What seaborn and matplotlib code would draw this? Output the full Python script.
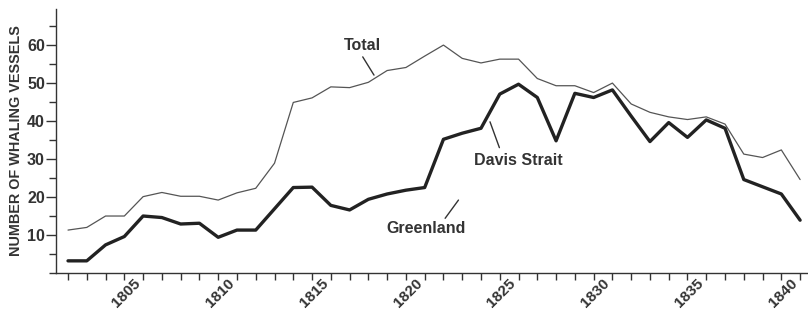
import matplotlib
matplotlib.use("Agg")
import matplotlib.pyplot as plt
import seaborn as sns
import pandas as pd
from matplotlib.ticker import MultipleLocator, FixedLocator

years = list(range(1801, 1841))
total = [11.3, 12.0, 15.0, 15.0, 20.1, 21.2, 20.2, 20.2, 19.2, 21.1,
         22.3, 28.9, 44.9, 46.1, 49.0, 48.8, 50.2, 53.3, 54.1, 57.1,
         60.0, 56.5, 55.3, 56.3, 56.3, 51.2, 49.3, 49.3, 47.5, 50.0,
         44.5, 42.3, 41.1, 40.4, 41.1, 39.2, 31.3, 30.4, 32.4, 24.6]
greenland = [3.2, 3.2, 7.4, 9.6, 15.0, 14.6, 12.9, 13.1, 9.4, 11.3,
             11.3, 16.9, 22.5, 22.6, 17.8, 16.6, 19.4, 20.8, 21.8, 22.5,
             35.2, 36.8, 38.1, 47.1, 49.7, 46.2, 34.8, 47.3, 46.2, 48.2,
             41.3, 34.6, 39.6, 35.7, 40.3, 38.1, 24.6, 22.7, 20.8, 13.9]
xtick_years = [1805, 1810, 1815, 1820, 1825, 1830, 1835, 1840]
ytick_values = [10, 20, 30, 40, 50, 60]

sns.set_style("ticks")
plt.rcParams["font.family"] = ["Liberation Sans", "DejaVu Sans"]

df = pd.DataFrame({"year": years, "Total": total, "Greenland": greenland})

fig = plt.figure(figsize=(8.08, 3.16), dpi=100)
ax = fig.add_axes([56 / 808, 43 / 316, 752 / 808, 264 / 316])

sns.lineplot(data=df, x="year", y="Total", ax=ax, color="#555555", linewidth=0.9)
sns.lineplot(data=df, x="year", y="Greenland", ax=ax, color="#222222", linewidth=2.4)

ax.set_xlim(1800.36, 1840.42)
ax.set_ylim(0, 69.5)
sns.despine(ax=ax)
for s in ["left", "bottom"]:
    ax.spines[s].set_color("#333333")
    ax.spines[s].set_linewidth(1.0)

ax.xaxis.set_major_locator(FixedLocator(xtick_years))
ax.xaxis.set_minor_locator(MultipleLocator(1))
ax.set_xticks(xtick_years)
ax.set_xticklabels([str(y) for y in xtick_years], rotation=45, ha="right",
                   fontsize=11, fontweight="bold", color="#333333")
ax.set_yticks(ytick_values)
ax.set_yticklabels([str(v) for v in ytick_values], fontsize=11.5,
                   fontweight="bold", color="#333333")
ax.yaxis.set_minor_locator(MultipleLocator(5))
ax.tick_params(axis="both", which="both", direction="out", width=1.0,
               color="#333333")
ax.tick_params(axis="x", which="both", length=5)
ax.tick_params(axis="x", which="major", pad=-3)
ax.tick_params(axis="y", which="major", length=7, pad=1)
ax.tick_params(axis="y", which="minor", length=5)
ax.set_xlabel("")
ax.set_ylabel("NUMBER OF WHALING VESSELS", fontsize=10.4, fontweight="bold",
              color="#333333", labelpad=3)

txt = dict(fontsize=11.5, fontweight="bold", color="#333333")
ax.text(1816.70, 60.0, "Total", ha="center", va="center", **txt)
ax.text(1824.97, 29.7, "Davis Strait", ha="center", va="center", **txt)
ax.text(1820.07, 11.8, "Greenland", ha="center", va="center", **txt)
lp = dict(arrowstyle="-", color="#333333", lw=1.0, shrinkA=0, shrinkB=0)
ax.annotate("", xy=(1817.3, 52.1), xytext=(1816.7, 56.9), arrowprops=lp)
ax.annotate("", xy=(1823.48, 39.8), xytext=(1823.98, 33.0), arrowprops=lp)
ax.annotate("", xy=(1821.8, 19.2), xytext=(1821.09, 14.4), arrowprops=lp)

fig.savefig("out.png", dpi=100)
